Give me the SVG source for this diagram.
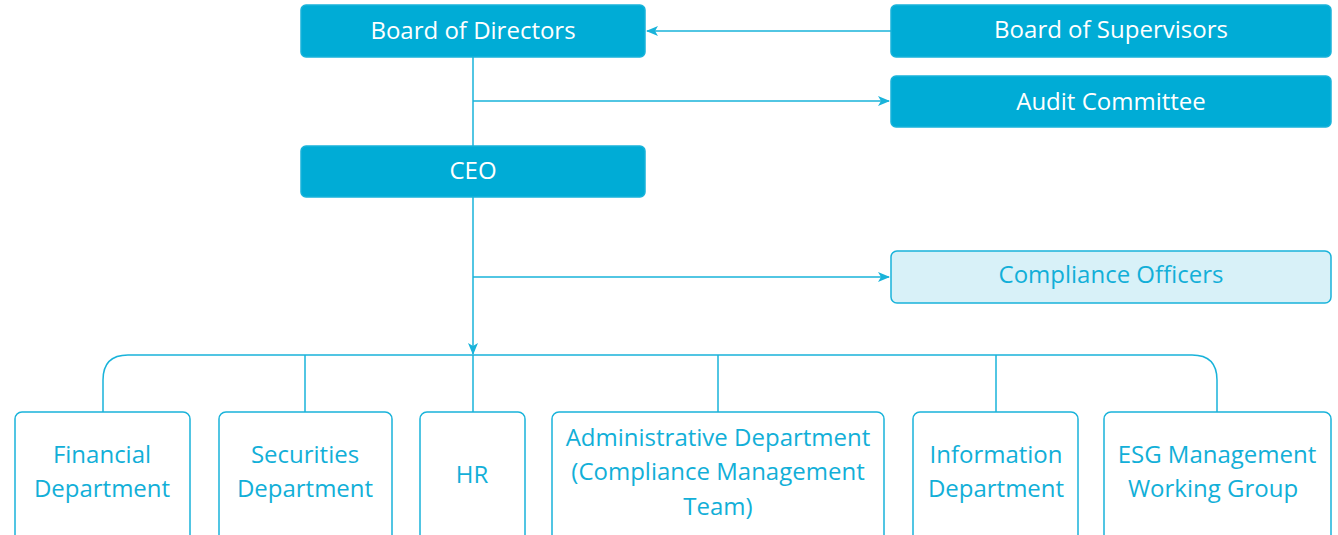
<svg xmlns="http://www.w3.org/2000/svg" width="1338" height="535" viewBox="0 0 1338 535">
<style>
.solid{fill:#00acd6;stroke:#19b3da;stroke-width:1.5}
.light{fill:#d8f1f8;stroke:#19b3da;stroke-width:1.5}
.out{fill:#ffffff;stroke:#19b3da;stroke-width:1.5}
.tw{font-family:"Open Sans",sans-serif;font-size:24px;fill:#ffffff;text-anchor:middle}
.tb{font-family:"Open Sans",sans-serif;font-size:24px;fill:#12afd8;text-anchor:middle}
.ln{fill:none;stroke:#19b3da;stroke-width:1.5}
</style>
<defs>
<marker id="ah" viewBox="0 0 12 10" refX="11" refY="5" markerWidth="12" markerHeight="10" markerUnits="userSpaceOnUse" orient="auto">
<path d="M0,0 L12,5 L0,10 L3,5 Z" fill="#19b3da"/>
</marker>
</defs>
<g id="connectors">
<line class="ln" x1="891" y1="31" x2="647" y2="31" marker-end="url(#ah)"/>
<line class="ln" x1="473" y1="57" x2="473" y2="146"/>
<line class="ln" x1="473" y1="101" x2="889" y2="101" marker-end="url(#ah)"/>
<line class="ln" x1="473" y1="197" x2="473" y2="354" marker-end="url(#ah)"/>
<line class="ln" x1="473" y1="277" x2="889" y2="277" marker-end="url(#ah)"/>
<path class="ln" d="M103,412 V380 Q103,355 128,355 H1192 Q1217,355 1217,380 V412"/>
<line class="ln" x1="305" y1="355" x2="305" y2="412"/>
<line class="ln" x1="473" y1="355" x2="473" y2="412"/>
<line class="ln" x1="718" y1="355" x2="718" y2="412"/>
<line class="ln" x1="996" y1="355" x2="996" y2="412"/>
</g>
<g id="board-of-directors">
<rect class="solid" x="301" y="5" width="344" height="52" rx="5"/>
<text class="tw" x="473" y="39">Board of Directors</text>
</g>
<g id="board-of-supervisors">
<rect class="solid" x="891" y="5" width="440" height="52" rx="5"/>
<text class="tw" x="1111" y="38">Board of Supervisors</text>
</g>
<g id="audit-committee">
<rect class="solid" x="891" y="76" width="440" height="51" rx="5"/>
<text class="tw" x="1111" y="110">Audit Committee</text>
</g>
<g id="ceo">
<rect class="solid" x="301" y="146" width="344" height="51" rx="5"/>
<text class="tw" x="473" y="179">CEO</text>
</g>
<g id="compliance-officers">
<rect class="light" x="891" y="251" width="440" height="52" rx="6"/>
<text class="tb" x="1111" y="283">Compliance Officers</text>
</g>
<g id="financial-department">
<rect class="out" x="15" y="412" width="175" height="140" rx="7"/>
<text class="tb" x="102" y="463">Financial</text>
<text class="tb" x="102" y="497">Department</text>
</g>
<g id="securities-department">
<rect class="out" x="219" y="412" width="173" height="140" rx="7"/>
<text class="tb" x="305" y="463">Securities</text>
<text class="tb" x="305" y="497">Department</text>
</g>
<g id="hr">
<rect class="out" x="420" y="412" width="105" height="140" rx="7"/>
<text class="tb" x="472" y="483">HR</text>
</g>
<g id="administrative-department">
<rect class="out" x="552" y="412" width="332" height="140" rx="7"/>
<text class="tb" x="718" y="446">Administrative Department</text>
<text class="tb" x="718" y="480">(Compliance Management</text>
<text class="tb" x="718" y="515">Team)</text>
</g>
<g id="information-department">
<rect class="out" x="913" y="412" width="165" height="140" rx="7"/>
<text class="tb" x="996" y="463">Information</text>
<text class="tb" x="996" y="497">Department</text>
</g>
<g id="esg-management-working-group">
<rect class="out" x="1104" y="412" width="227" height="140" rx="7"/>
<text class="tb" x="1217" y="463">ESG Management</text>
<text class="tb" x="1213" y="497">Working Group</text>
</g>
</svg>
